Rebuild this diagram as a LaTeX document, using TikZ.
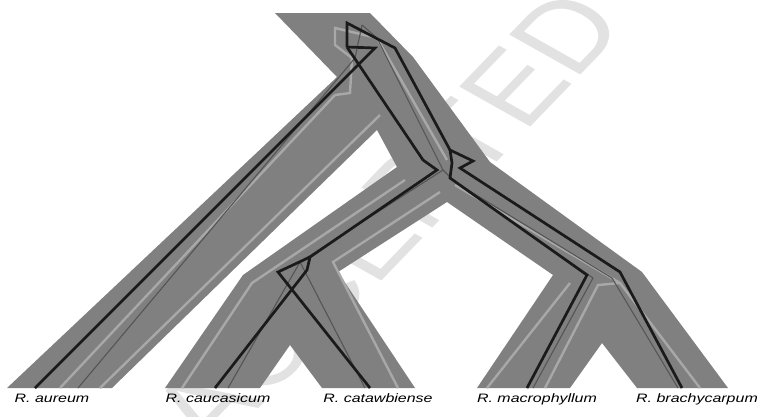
\documentclass[tikz,border=0pt]{standalone}
\usepackage{fontspec}
\setmainfont{Liberation Sans}
\usepackage{tikz}

\definecolor{band}{RGB}{128,128,128}
\definecolor{geneA}{RGB}{26,26,26}
\definecolor{geneB}{RGB}{85,85,85}
\definecolor{geneC}{RGB}{168,168,168}
\definecolor{stamp}{RGB}{226,226,226}

\newcommand{\wide}[1]{\scalebox{1.31}[1]{#1}}

\begin{document}
\begin{tikzpicture}[x=1pt,y=-1pt,line join=miter,
    gA/.style={draw=geneA,line width=2.7pt},
    gB/.style={draw=geneB,line width=1.1pt},
    gC/.style={draw=geneC,line width=2.4pt},
    taxon/.style={anchor=base,inner sep=0pt,font=\fontsize{12.2}{14}\selectfont\itshape}]
  \useasboundingbox (0,0) rectangle (762,416);

  % watermark
  \begin{scope}
    \clip (0,0) rectangle (762,416);
    \node[text=stamp,inner sep=0pt,font=\fontsize{98}{98}\selectfont] (stamp) at (387,219)
      {\wide{\rotatebox{53.6}{ACCEPTED}}};
  \end{scope}

  % species tree
  \fill[band] (275,13) -- (370,13) -- (413,57) -- (490,162) -- (642,272) -- (728,388)
    -- (637,388) -- (602,343) -- (570,388) -- (477,388) -- (553,275) -- (447,202)
    -- (338,272) -- (415,388) -- (322,388) -- (290,345) -- (260,388) -- (165,388)
    -- (243,275) -- (397,167) -- (377,130) -- (112,388) -- (7,388) -- (337,77) -- cycle;

  % leaves
  \coordinate (aur) at (35,388);
  \coordinate (cau) at (215,388);
  \coordinate (cat) at (370,388);
  \coordinate (mac) at (527,388);
  \coordinate (bra) at (682,388);

  % light gene tree
  \draw[gC] (335,95) -- (350,93) -- (352,58) -- (335,45) -- (335,28) -- (377,38) -- (447,160);
  \draw[gC] (335,95) -- (60,388);
  \draw[gC] (380,115) -- (100,388);
  \draw[gC] (405,180) -- (252,283) -- (182,388);
  \draw[gC] (440,192) -- (333,262) -- (398,388);
  \draw[gC] (455,185) -- (620,283) -- (700,388);
  \draw[gC] (570,283) -- (487,388);
  \draw[gC] (620,283) -- (598,285) -- (545,388);

  % thin gene tree
  \draw[gB] (362,25) -- (355,58) -- (78,388);
  \draw[gB] (362,25) -- (377,38) -- (443,170) -- (455,182) -- (593,278) -- (533,388);
  \draw[gB] (455,182) -- (612,278) -- (678,388);
  \draw[gB] (443,170) -- (300,262) -- (228,388);
  \draw[gB] (300,262) -- (365,388);

  % black gene tree
  \coordinate (a0) at (347,23);
  \coordinate (a1) at (347,47);
  \coordinate (a2) at (375,48);
  \coordinate (a3) at (395,48);
  \coordinate (a4) at (450,150);
  \coordinate (a5) at (473,161);
  \coordinate (a6) at (460,168);
  \coordinate (a7) at (452,163);
  \coordinate (bt) at (620,272);
  \coordinate (ms) at (450,178);
  \coordinate (mt) at (587,275);
  \coordinate (lA) at (423,160);
  \coordinate (lB) at (437,170);
  \coordinate (lC) at (310,257);
  \coordinate (lD) at (278,272);
  \coordinate (lE) at (307,270);
  \draw[gA] (a1) -- (a0) -- (a3) -- (a4) -- (a5) -- (a6) -- (bt) -- (bra);
  \draw[gA] (a4) -- (a7) -- (ms) -- (mt) -- (mac);
  \draw[gA] (a1) -- (a2) -- (aur);
  \draw[gA] (a1) -- (lA) -- (lB) -- (lC) -- (lD) -- (cat);
  \draw[gA] (lC) -- (lE) -- (cau);

  % taxa
  \node[taxon] (naur) at (52,402) {\wide{R. aureum}};
  \node[taxon] (ncau) at (218,402) {\wide{R. caucasicum}};
  \node[taxon] (ncat) at (378,402) {\wide{R. catawbiense}};
  \node[taxon] (nmac) at (537,402) {\wide{R. macrophyllum}};
  \node[taxon] (nbra) at (697,402) {\wide{R. brachycarpum}};
\end{tikzpicture}
\end{document}
